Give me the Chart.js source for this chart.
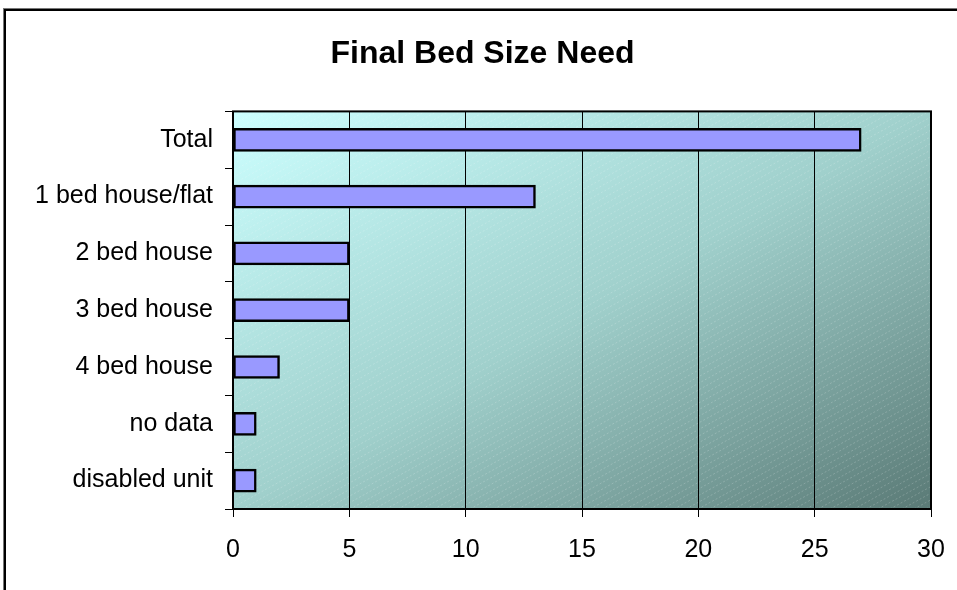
<!DOCTYPE html>
<html>
<head>
<meta charset="utf-8">
<script src="https://cdn.jsdelivr.net/npm/chart.js@4.4.0/dist/chart.umd.min.js"></script>
<style>
  html, body { margin: 0; padding: 0; background: #fff; overflow: hidden; }
  #frame {
    position: absolute; left: 4px; top: 9px; width: 1000px; height: 700px;
    border-left: 2px solid #000; border-top: 2px solid #000;
    box-shadow: -1px -1px 0 #777;
  }
  #wrap { position: absolute; left: 0; top: 0; width: 957px; height: 590px; }
</style>
</head>
<body>
<div id="frame"></div>
<div id="wrap"><canvas id="chart"></canvas></div>
<script>
const categories = ['Total', '1 bed house/flat', '2 bed house', '3 bed house', '4 bed house', 'no data', 'disabled unit'];
const needCounts = [27, 13, 5, 5, 2, 1, 1];
const xTicks = [0, 5, 10, 15, 20, 25, 30];

const FONT = "'Liberation Sans', Arial, sans-serif";

// Excel style gradient + hatching behind the plot, and border around it
const plotBackground = {
  id: 'plotBackground',
  beforeDraw(chart) {
    const { ctx, chartArea: a } = chart;
    const w = a.right - a.left, h = a.bottom - a.top;
    const cx = a.left + w / 2, cy = a.top + h / 2;
    const k = (w * h) / (w * w + h * h);
    const g = ctx.createLinearGradient(cx - h * k, cy - w * k, cx + h * k, cy + w * k);
    g.addColorStop(0, '#ccffff');
    g.addColorStop(0.5, '#a0d0cc');
    g.addColorStop(1, '#5a7a76');
    ctx.save();
    ctx.fillStyle = g;
    ctx.fillRect(a.left, a.top, w, h);
    ctx.beginPath();
    ctx.rect(a.left, a.top, w, h);
    ctx.clip();
    ctx.strokeStyle = 'rgba(255,255,255,0.2)';
    ctx.lineWidth = 1;
    ctx.setLineDash([2, 2]);
    const run = h / 0.55;
    for (let s = -run; s < w; s += 12) {
      ctx.beginPath();
      ctx.moveTo(a.left + s, a.bottom);
      ctx.lineTo(a.left + s + run, a.top);
      ctx.stroke();
    }
    ctx.restore();
  },
  afterDraw(chart) {
    const { ctx, chartArea: a } = chart;
    ctx.save();
    ctx.strokeStyle = '#000';
    ctx.lineWidth = 2;
    ctx.strokeRect(a.left, a.top, a.right - a.left, a.bottom - a.top);
    ctx.restore();
  }
};

new Chart(document.getElementById('chart'), {
  type: 'bar',
  data: {
    labels: categories,
    datasets: [{
      data: needCounts,
      backgroundColor: '#9999ff',
      borderColor: '#000',
      borderWidth: 2.5,
      borderSkipped: false,
      barThickness: 23
    }]
  },
  options: {
    indexAxis: 'y',
    responsive: true,
    maintainAspectRatio: false,
    animation: false,
    layout: { padding: { left: 34, right: 26, top: 0, bottom: 0 } },
    plugins: {
      legend: { display: false },
      tooltip: { enabled: false },
      title: {
        display: true,
        text: 'Final Bed Size Need',
        color: '#000',
        font: { family: FONT, size: 32, weight: 'bold' },
        padding: { top: 35, bottom: 38 }
      }
    },
    scales: {
      x: {
        min: 0, max: 30,
        afterBuildTicks(scale) { scale.ticks = xTicks.map(v => ({ value: v })); },
        afterFit(scale) { scale.height = 81; scale.paddingLeft = 0; scale.paddingRight = 0; },
        grid: { color: '#000', lineWidth: 1, tickLength: 8, drawOnChartArea: true },
        border: { display: false },
        ticks: { color: '#000', font: { family: FONT, size: 25 }, padding: 18 }
      },
      y: {
        afterFit(scale) { scale.width = 199; scale.paddingTop = 0; scale.paddingBottom = 0; },
        grid: { color: '#000', lineWidth: 1, tickLength: 8, drawOnChartArea: false, offset: true },
        border: { display: false },
        ticks: { color: '#000', font: { family: FONT, size: 25 }, padding: 12 }
      }
    }
  },
  plugins: [plotBackground]
});
</script>
</body>
</html>
